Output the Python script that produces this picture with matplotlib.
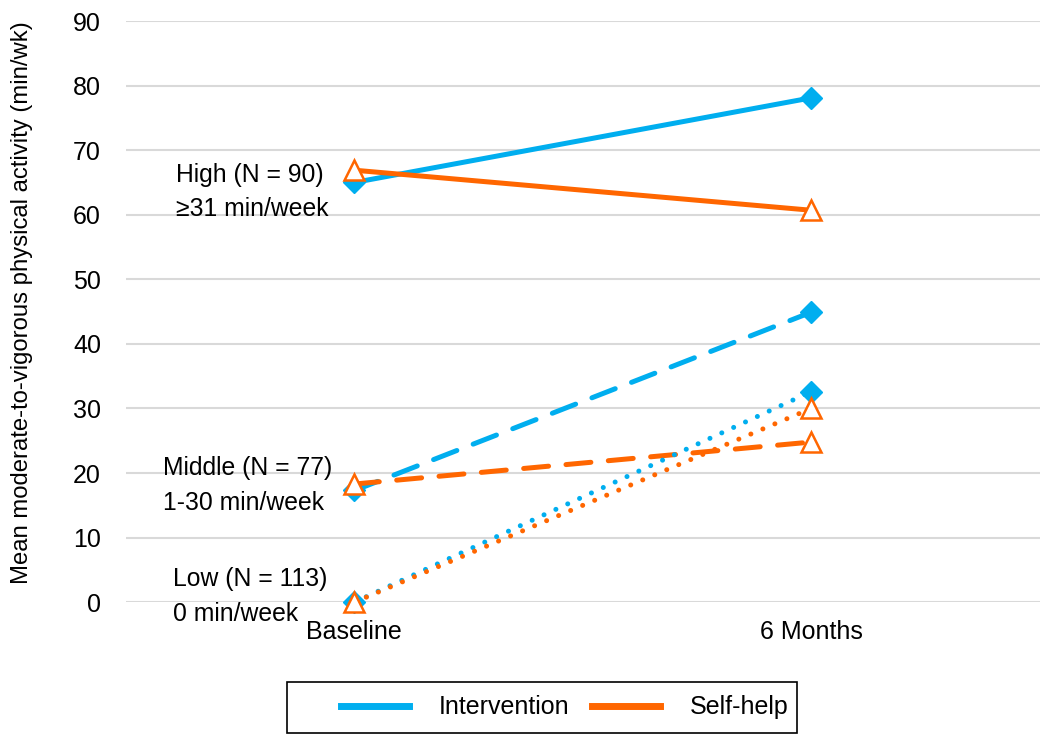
import matplotlib.pyplot as plt
from matplotlib.patches import Rectangle

plt.rcParams['font.family'] = ['Liberation Sans', 'DejaVu Sans']

timepoints = ["Baseline", "6 Months"]
blue = "#00AEEF"
orange = "#FF6600"

# mean MVPA (min/wk) by baseline activity group
high_int = [65.0, 78.1]
high_self = [66.9, 60.7]
mid_int = [17.3, 44.9]
mid_self = [18.3, 24.8]
low_int = [0.0, 32.6]
low_self = [0.0, 30.0]

group_labels = ["High (N = 90)\n\u226531 min/week",
                "Middle (N = 77)\n1-30 min/week",
                "Low (N = 113)\n0 min/week"]
label_pos = [(-0.39, 63.5), (-0.42, 18.1), (-0.398, 0.9)]

fig = plt.figure(figsize=(10.5, 7.38), dpi=100)
ax = fig.add_axes([0.12, 0.184, 0.87, 0.7875])

x = range(len(timepoints))
lw = 3.6
dia = dict(marker="D", markersize=11, markerfacecolor=blue, markeredgecolor=blue)
tri = dict(marker="^", markersize=14, markerfacecolor="white", markeredgecolor=orange,
           markeredgewidth=1.8)

# high group: solid
ax.plot(x, high_int, color=blue, lw=lw, **dia)
ax.plot(x, high_self, color=orange, lw=lw, **tri)
# middle group: dashed
ax.plot(x, mid_int, color=blue, lw=lw, dashes=(5, 3.5), dash_capstyle="round", **dia)
ax.plot(x, mid_self, color=orange, lw=lw, dashes=(5, 3.5), dash_capstyle="round", **tri)
# low group: dotted
ax.plot(x, low_int, color=blue, lw=lw, dashes=(0.01, 2.6), dash_capstyle="round", **dia)
ax.plot(x, low_self, color=orange, lw=lw, dashes=(0.01, 2.6), dash_capstyle="round", **tri)

for txt, (tx, ty) in zip(group_labels, label_pos):
    ax.text(tx, ty, txt, fontsize=17.8, ha="left", va="center", linespacing=1.55)

ax.set_xlim(-0.5, 1.5)
ax.set_ylim(0, 90)
ax.set_yticks(range(0, 91, 10))
ax.set_xticks(list(x))
ax.set_xticklabels(timepoints)
ax.tick_params(axis="both", length=0, labelsize=18)
ax.tick_params(axis="y", pad=18)
ax.tick_params(axis="x", pad=13)
ax.grid(axis="y", color="#D9D9D9", lw=1.5)
ax.set_axisbelow(True)
for s in ax.spines.values():
    s.set_visible(False)
for ln in ax.lines:
    ln.set_clip_on(False)

ax.set_ylabel("Mean moderate-to-vigorous physical activity (min/wk)", fontsize=17.2)
ax.yaxis.set_label_coords(-0.102, 0.516)

h1, = ax.plot([], [], color=blue, lw=5)
h2, = ax.plot([], [], color=orange, lw=5)
leg = fig.legend([h1, h2], ["Intervention", "Self-help"], loc="center",
                 bbox_to_anchor=(0.538, 0.0415), ncol=2, fontsize=18, frameon=False,
                 handlelength=2.7, columnspacing=0.9, handletextpad=1.2,
                 borderpad=0.3, borderaxespad=0)
# legend box drawn separately (Excel pads the left side more than the right)
fig.patches.append(Rectangle((0.2735, 0.0068), 0.4855, 0.069, transform=fig.transFigure,
                             fill=False, edgecolor="black", lw=1.2))

fig.savefig("out.png", dpi=100)
